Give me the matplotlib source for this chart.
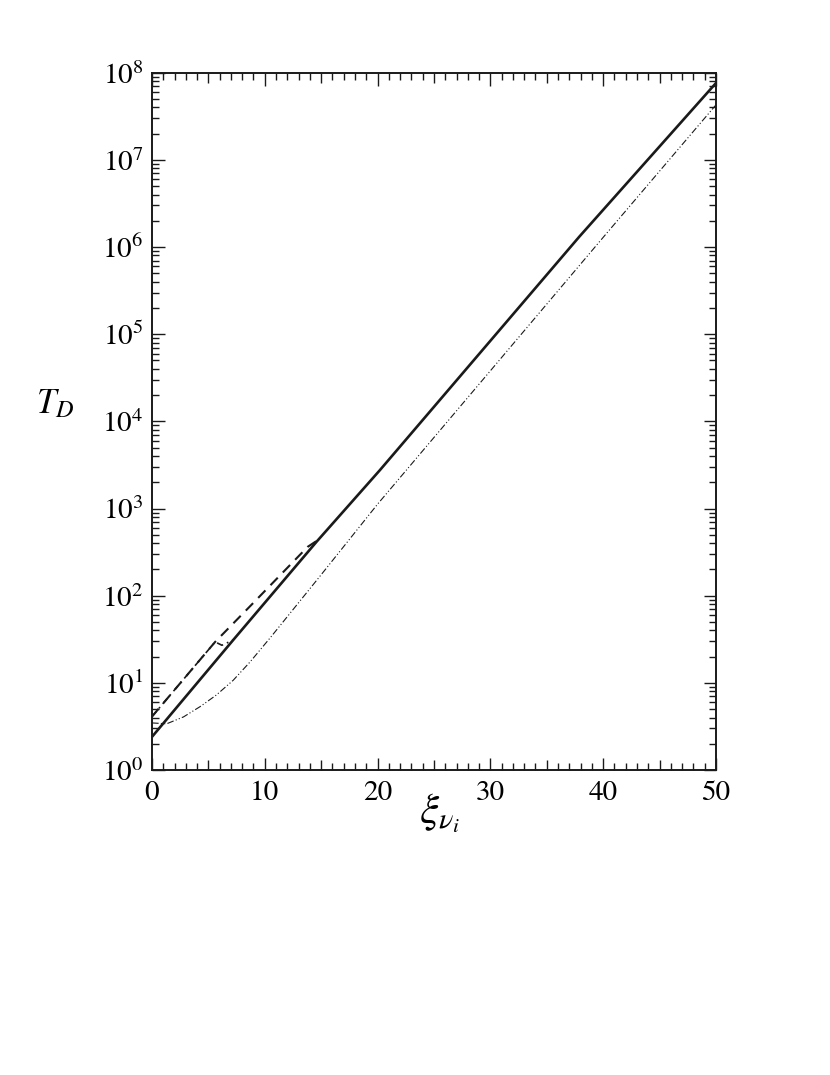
import numpy as np
import matplotlib
matplotlib.use("Agg")
import matplotlib.pyplot as plt
from matplotlib.ticker import MultipleLocator, LogLocator, NullFormatter

plt.rcParams['font.family'] = 'STIXGeneral'
plt.rcParams['mathtext.fontset'] = 'stix'

# --- data ---
# solid line
x_solid = [0, 7.2, 14.6, 20.2, 37.9, 50]
t_solid = [2.4, 31, 417, 2750, 1.32e6, 7.6e7]

# dashed line (joins the solid near 14.6)
x_dash = [0, 5.6, 9.0, 13.8, 14.6]
t_dash = [4.1, 29.5, 83, 363, 425]

# dash-dot line (joins the solid near 7.2)
x_dashdot = [0, 5.6, 6.2, 7.2]
t_dashdot = [4.1, 29.5, 27, 31]

# thin dash-dot-dot line
x_dd = [0, 1.3, 2.8, 4.3, 5.7, 7.2, 8.7, 10.5, 12, 15, 20, 30, 40, 50]
t_dd = [3.47, 3.39, 4.07, 5.37, 7.24, 10.7, 17.4, 33.1, 57.5, 174, 1122,
        38000, 1.29e6, 4.27e7]

x_ticks = [0, 10, 20, 30, 40, 50]
y_decades = list(range(0, 9))

# --- figure ---
fig = plt.figure(figsize=(8.3, 10.75), dpi=100)
ax = fig.add_axes([0.1831, 0.2837, 0.6795, 0.6487])

ax.plot(x_solid, t_solid, color='#1a1a1a', lw=1.9, solid_capstyle='butt')
ax.plot(x_dash, t_dash, color='#1a1a1a', lw=1.5, dashes=(5, 3.5))
ax.plot(x_dashdot, t_dashdot, color='#1a1a1a', lw=1.2, dashes=(4, 2.5, 1, 2.5))
ax.plot(x_dd, t_dd, color='#1a1a1a', lw=0.8, dashes=(6, 2, 1, 2, 1, 2))

ax.set_yscale('log')
ax.set_xlim(0, 50)
ax.set_ylim(1, 1e8)

ax.set_xticks(x_ticks)
ax.set_xticklabels([str(v) for v in x_ticks])
ax.xaxis.set_minor_locator(MultipleLocator(1))

ax.set_yticks([10.0 ** d for d in y_decades])
ax.set_yticklabels([r'$10^{%d}$' % d for d in y_decades])
ax.yaxis.set_minor_locator(LogLocator(base=10, subs=np.arange(2, 10), numticks=20))
ax.yaxis.set_minor_formatter(NullFormatter())

ax.tick_params(which='both', direction='in', top=True, right=True, width=1.0,
               color='#1a1a1a', labelsize=21)
ax.tick_params(which='major', length=9)
ax.tick_params(which='minor', length=5)
ax.tick_params(axis='x', which='major', pad=8)
ax.tick_params(axis='y', which='major', pad=6)

for sp in ax.spines.values():
    sp.set_linewidth(1.4)
    sp.set_color('#1a1a1a')

# longer minor ticks at multiples of 5 on the x axis
fig.canvas.draw()
locs = ax.xaxis.get_minorticklocs()
for loc, tick in zip(locs, ax.xaxis.get_minor_ticks(len(locs))):
    if abs(loc % 5) < 1e-6:
        tick.tick1line.set_markersize(7.2)
        tick.tick2line.set_markersize(7.2)

ax.set_ylabel(r'$T_D$', fontsize=25, rotation=0)
ax.yaxis.set_label_coords(-0.172, 0.50)
ax.set_xlabel(r'$\xi_{\nu_{i}}$', fontsize=31)
ax.xaxis.set_label_coords(0.51, -0.03)

fig.savefig('out.png', dpi=100)
